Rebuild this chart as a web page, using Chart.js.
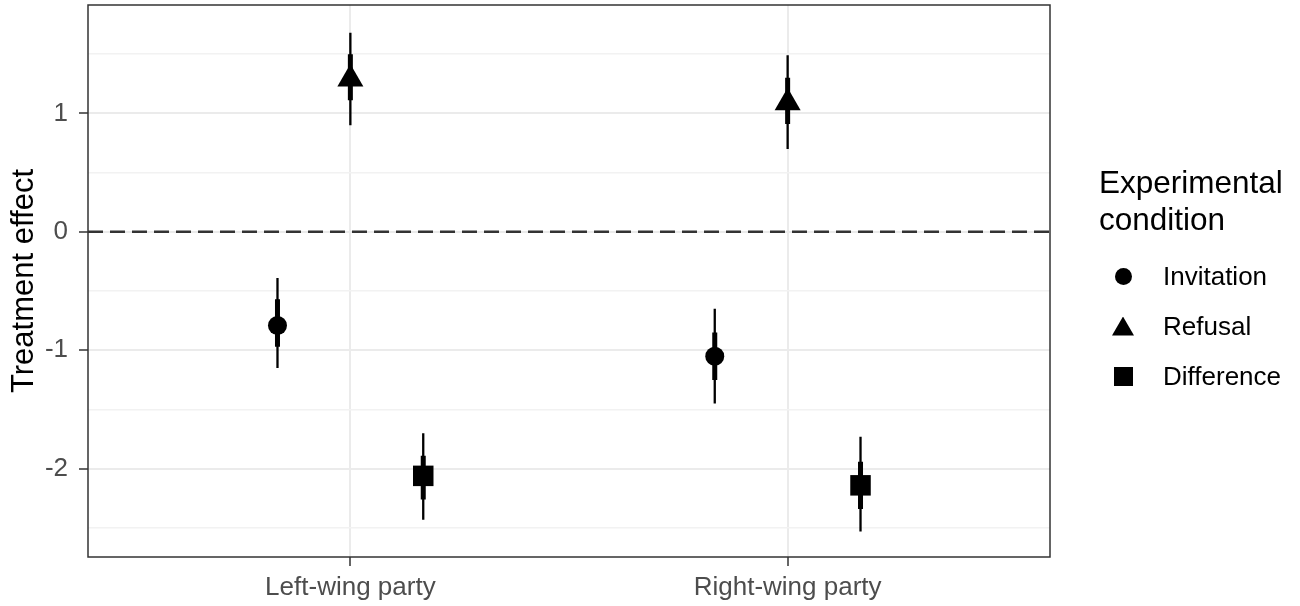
<!DOCTYPE html>
<html>
<head>
<meta charset="utf-8">
<script src="https://cdn.jsdelivr.net/npm/chart.js@4.4.1/dist/chart.umd.min.js"></script>
<style>
  html, body { margin: 0; padding: 0; background: #fff; }
  body { width: 1300px; height: 606px; position: relative; overflow: hidden;
         font-family: "Liberation Sans", Arial, sans-serif; }
  #effects-chart { position: absolute; left: 0; top: 0; }
  .legend-title { position: absolute; left: 1099px; top: 164px; font-size: 31.5px; line-height: 37px; color: #000; }
  .legend-item { position: absolute; left: 1110px; height: 50px; display: flex; align-items: center;
                 font-size: 26px; color: #000; }
  .legend-key { width: 26px; height: 26px; display: flex; align-items: center; justify-content: center; margin-right: 27px; }
  .key-circle { width: 17px; height: 17px; border-radius: 50%; background: #000; }
  .key-triangle { width: 22px; height: 19px; background: #000; clip-path: polygon(50% 0, 100% 100%, 0 100%); }
  .key-square { width: 19px; height: 19px; background: #000; }
</style>
</head>
<body>
<canvas id="effects-chart" width="1300" height="606"></canvas>
<div class="legend-title">Experimental<br>condition</div>
<div id="legend"></div>

<script>
const categories = ['Left-wing party', 'Right-wing party'];
const conditions = ['Invitation', 'Refusal', 'Difference'];

// point estimates and intervals per category (left, right)
const invitationEst = [-0.79, -1.05];
const invitationLo95 = [-1.15, -1.45];
const invitationHi95 = [-0.39, -0.65];
const invitationLo90 = [-0.97, -1.25];
const invitationHi90 = [-0.57, -0.85];

const refusalEst = [1.29, 1.09];
const refusalLo95 = [0.90, 0.70];
const refusalHi95 = [1.68, 1.49];
const refusalLo90 = [1.11, 0.91];
const refusalHi90 = [1.50, 1.30];

const differenceEst = [-2.06, -2.14];
const differenceLo95 = [-2.43, -2.53];
const differenceHi95 = [-1.70, -1.73];
const differenceLo90 = [-2.26, -2.34];
const differenceHi90 = [-1.89, -1.94];

const yTicks = [-2, -1, 0, 1];
const yMinorTicks = [-2.5, -1.5, -0.5, 0.5, 1.5];
const referenceLine = 0;

const X_MIN = 0.4;
const X_MAX = 2.6;
const Y_MIN = -2.745;
const Y_MAX = 1.915;
const DODGE = 0.5;

const series = [
  { label: 'Invitation', est: invitationEst, lo95: invitationLo95, hi95: invitationHi95, lo90: invitationLo90, hi90: invitationHi90, style: 'circle', radius: 9.5, key: 'key-circle' },
  { label: 'Refusal', est: refusalEst, lo95: refusalLo95, hi95: refusalHi95, lo90: refusalLo90, hi90: refusalHi90, style: 'triangle', radius: 15, key: 'key-triangle' },
  { label: 'Difference', est: differenceEst, lo95: differenceLo95, hi95: differenceHi95, lo90: differenceLo90, hi90: differenceHi90, style: 'rect', radius: 14.5, key: 'key-square' },
];

const xPos = (catIdx, seriesIdx) => catIdx + 1 + (seriesIdx - (series.length - 1) / 2) * (DODGE / series.length);

const whiskerData = (loKey, hiKey) => {
  const pts = [];
  series.forEach((s, si) => {
    categories.forEach((c, ci) => {
      const x = xPos(ci, si);
      pts.push({ x, y: s[loKey][ci] }, { x, y: s[hiKey][ci] }, { x, y: null });
    });
  });
  return pts;
};

const pointDatasets = series.map((s, si) => ({
  label: s.label,
  data: categories.map((c, ci) => ({ x: xPos(ci, si), y: s.est[ci] })),
  pointStyle: s.style,
  pointRadius: s.radius,
  pointHoverRadius: s.radius,
  backgroundColor: '#000',
  borderWidth: 0,
  showLine: false,
  order: 0,
}));

const panelBorder = {
  id: 'panelBorder',
  afterDraw(chart) {
    const { ctx, chartArea: a } = chart;
    ctx.save();
    ctx.strokeStyle = '#333';
    ctx.lineWidth = 1.5;
    ctx.strokeRect(a.left, a.top, a.right - a.left, a.bottom - a.top);
    ctx.restore();
  },
};

const noScalePadding = (scale) => {
  scale.paddingTop = 0;
  scale.paddingBottom = 0;
  scale.paddingLeft = 0;
  scale.paddingRight = 0;
};

const isMajor = (v) => yTicks.includes(v);

Chart.defaults.font.family = '"Liberation Sans", Arial, sans-serif';

new Chart(document.getElementById('effects-chart'), {
  type: 'scatter',
  data: {
    datasets: [
      ...pointDatasets,
      {
        label: 'ci90',
        data: whiskerData('lo90', 'hi90'),
        showLine: true,
        spanGaps: false,
        borderColor: '#000',
        borderWidth: 5,
        borderCapStyle: 'butt',
        pointRadius: 0,
        order: 1,
      },
      {
        label: 'ci95',
        data: whiskerData('lo95', 'hi95'),
        showLine: true,
        spanGaps: false,
        borderColor: '#000',
        borderWidth: 2.3,
        borderCapStyle: 'butt',
        pointRadius: 0,
        order: 2,
      },
      {
        label: 'zero',
        data: [{ x: X_MIN, y: referenceLine }, { x: X_MAX, y: referenceLine }],
        showLine: true,
        borderColor: '#333',
        borderWidth: 2.5,
        borderDash: [15, 7],
        pointRadius: 0,
        order: 3,
      },
    ],
  },
  options: {
    responsive: false,
    animation: false,
    layout: { autoPadding: false, padding: { top: 5, right: 250, left: 0, bottom: 0 } },
    plugins: { legend: { display: false }, tooltip: { enabled: false } },
    scales: {
      x: {
        type: 'linear',
        min: X_MIN,
        max: X_MAX,
        afterFit: (scale) => { scale.height = 49; noScalePadding(scale); },
        afterBuildTicks: (scale) => { scale.ticks = categories.map((c, i) => ({ value: i + 1 })); },
        ticks: {
          callback: (v) => categories[v - 1] ?? '',
          color: '#4d4d4d',
          font: { size: 26 },
          padding: 6,
          maxRotation: 0,
          autoSkip: false,
        },
        grid: { color: '#ebebeb', lineWidth: 2, tickLength: 9, tickColor: '#333', tickWidth: 1.5 },
        border: { display: false },
      },
      y: {
        min: Y_MIN,
        max: Y_MAX,
        afterFit: (scale) => { scale.width = 88; noScalePadding(scale); },
        afterBuildTicks: (scale) => {
          scale.ticks = [...yTicks, ...yMinorTicks].sort((a, b) => a - b).map((v) => ({ value: v }));
        },
        ticks: {
          callback: (v) => (isMajor(v) ? String(v) : ''),
          color: '#4d4d4d',
          font: { size: 26 },
          padding: 11,
          autoSkip: false,
        },
        grid: {
          color: (ctx) => (isMajor(ctx.tick.value) ? '#ebebeb' : '#f2f2f2'),
          lineWidth: (ctx) => (isMajor(ctx.tick.value) ? 2 : 1.5),
          tickLength: 9,
          tickColor: (ctx) => (isMajor(ctx.tick.value) ? '#333' : 'rgba(0,0,0,0)'),
          tickWidth: 1.5,
        },
        border: { display: false },
        title: {
          display: true,
          text: 'Treatment effect',
          color: '#000',
          font: { size: 31 },
          padding: { top: 6, bottom: 0 },
        },
      },
    },
  },
  plugins: [panelBorder],
});

// legend, same order as the series
const legend = document.getElementById('legend');
const legendTops = [251, 301, 351];
legend.innerHTML = series
  .map(
    (s, i) => `
  <div class="legend-item" style="top:${legendTops[i]}px;">
    <div class="legend-key"><div class="${s.key}"></div></div>
    <span>${conditions[i]}</span>
  </div>`
  )
  .join('');
</script>
</body>
</html>
